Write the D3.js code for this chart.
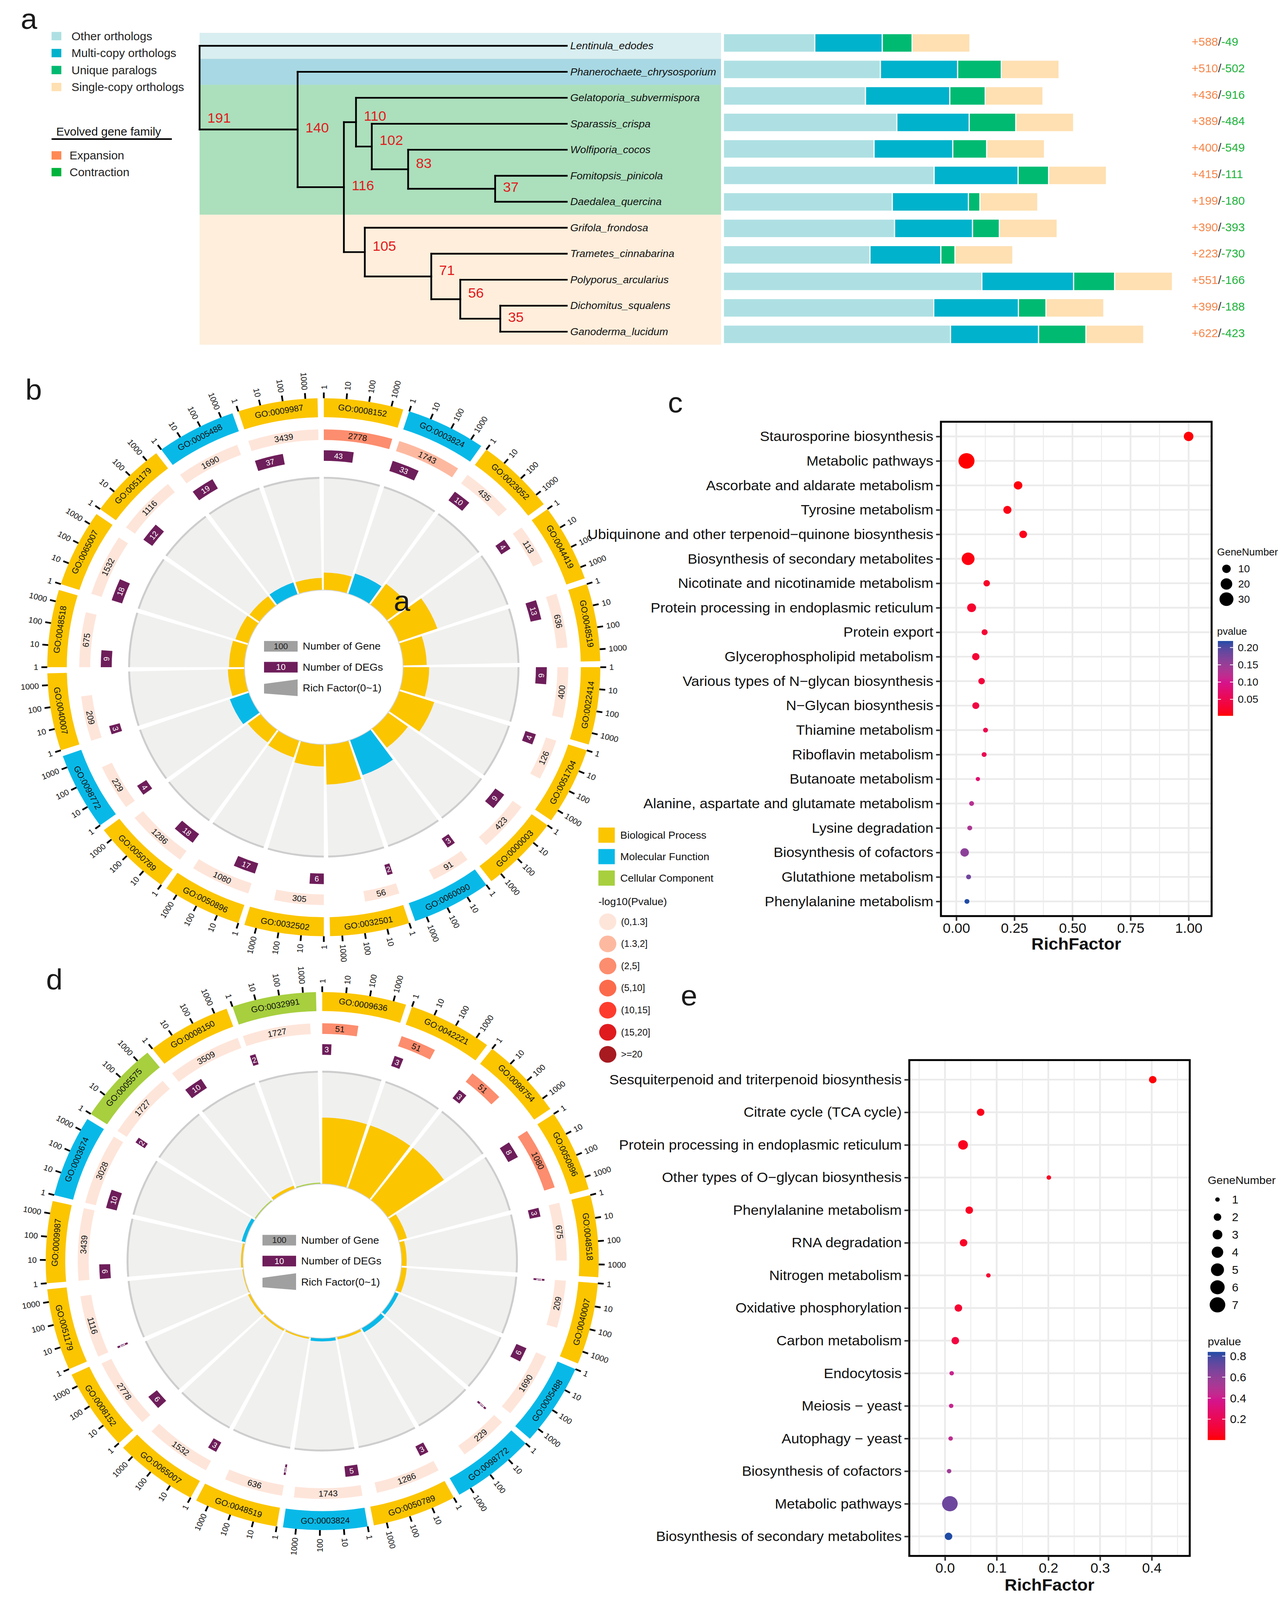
<!DOCTYPE html>
<html>
<head>
<meta charset="utf-8">
<script src="https://cdn.jsdelivr.net/npm/d3@7"></script>
<style>
  html, body { margin: 0; padding: 0; background: #fff; overflow: hidden; }
  svg { display: block; position: absolute; left: 0; top: 0; }
  text { font-family: "Liberation Sans", Arial, Helvetica, sans-serif; }
</style>
</head>
<body>
<script>
// whole figure lives inside this function, nothing global
(function(){
    var FONT = '"Liberation Sans", Arial, sans-serif';
    var W = 3295, H = 4211;

    // ---------------- panel a : species tree + gene bars ----------------
    var treeIds     = ["n191","Lentinula_edodes","n140","Phanerochaete_chrysosporium","n116","n110",
                       "Gelatoporia_subvermispora","n102","Sparassis_crispa","n83","Wolfiporia_cocos","n37",
                       "Fomitopsis_pinicola","Daedalea_quercina","n105","Grifola_frondosa","n71",
                       "Trametes_cinnabarina","n56","Polyporus_arcularius","n35","Dichomitus_squalens","Ganoderma_lucidum"];
    var treeParents = [null,"n191","n191","n140","n140","n116","n110","n110","n102","n102","n83","n83",
                       "n37","n37","n116","n105","n105","n71","n71","n56","n56","n35","n35"];
    // relative node position along the tree (0 = root, 1 = tips)
    var treeDepth   = [0,1,0.267,1,0.393,0.426,1,0.469,1,0.568,1,0.805,1,1,0.450,1,0.631,1,0.710,1,0.819,1,1];

    var orthoKeys   = ["other","multi","unique","single"];
    var orthoNames  = ["Other orthologs","Multi-copy orthologs","Unique paralogs","Single-copy orthologs"];
    var orthoColors = ["#AEE0E3","#00B2CB","#00BA72","#FEE0B2"];
    var otherOrtho  = [2340,4021,3639,4441,3858,5396,4326,4383,3753,6618,5386,5816];
    var multiOrtho  = [1729,1977,2158,1853,2015,2149,1948,1996,1815,2349,2168,2254];
    var uniquePara  = [764,1117,907,1194,869,783,296,688,363,1051,707,1213];
    var singleOrtho = [1480,1480,1480,1480,1480,1480,1480,1480,1480,1480,1480,1480];
    var expansion   = [588,510,436,389,400,415,199,390,223,551,399,622];
    var contraction = [49,502,916,484,549,111,180,393,730,166,188,423];

    var bandFirst  = ["Lentinula_edodes","Phanerochaete_chrysosporium","Gelatoporia_subvermispora","Grifola_frondosa"];
    var bandLast   = ["Lentinula_edodes","Phanerochaete_chrysosporium","Daedalea_quercina","Ganoderma_lucidum"];
    var bandColors = ["#D8EEF0","#A8D8E3","#ACDFBC","#FEEEDB"];

    // ---------------- panels b / d : GO circles ----------------
    var catColor = {BP:"#FBC500", MF:"#08B9E8", CC:"#A7CF3E"};
    var catNames = ["Biological Process","Molecular Function","Cellular Component"];
    var pClassLabels = ["(0,1.3]","(1.3,2]","(2,5]","(5,10]","(10,15]","(15,20]",">=20"];
    var pClassColors = ["#FEE5DA","#FDB9A0","#FC8D6E","#FC6A4C","#FE3C2D","#E01B1E","#A71A20"];

    var bIds   = ["GO:0008152","GO:0003824","GO:0023052","GO:0044419","GO:0048519","GO:0022414","GO:0051704",
                  "GO:0000003","GO:0060090","GO:0032501","GO:0032502","GO:0050896","GO:0050789","GO:0098772",
                  "GO:0040007","GO:0048518","GO:0065007","GO:0051179","GO:0005488","GO:0009987"];
    var bCats  = ["BP","MF","BP","BP","BP","BP","BP","BP","MF","BP","BP","BP","BP","MF","BP","BP","BP","BP","MF","BP"];
    var bGenes = [2778,1743,435,113,636,400,126,423,91,56,305,1080,1286,229,209,675,1532,1116,1690,3439];
    var bDegs  = [43,33,10,4,13,9,4,9,3,2,6,17,18,4,3,9,18,12,19,37];
    var bPcls  = [2,1,0,0,0,0,0,0,0,0,0,0,0,0,0,0,0,0,0,0];

    var dIds   = ["GO:0009636","GO:0042221","GO:0098754","GO:0050896","GO:0048518","GO:0040007","GO:0005488",
                  "GO:0098772","GO:0050789","GO:0003824","GO:0048519","GO:0065007","GO:0008152","GO:0051179",
                  "GO:0009987","GO:0003674","GO:0005575","GO:0008150","GO:0032991"];
    var dCats  = ["BP","BP","BP","BP","BP","BP","MF","MF","BP","MF","BP","BP","BP","BP","BP","MF","CC","BP","CC"];
    var dGenes = [51,51,51,1080,675,209,1690,229,1286,1743,636,1532,2778,1116,3439,3028,1727,3509,1727];
    var dDegs  = [3,3,3,8,3,1,6,1,3,5,1,3,6,1,6,10,2,10,2];
    var dPcls  = [2,2,2,2,0,0,0,0,0,0,0,0,0,0,0,0,0,0,0];

    var axisTicks = [1,10,100,1000];

    // ---------------- panel c : KEGG dot plot ----------------
    var cTerms = ["Staurosporine biosynthesis","Metabolic pathways","Ascorbate and aldarate metabolism",
                  "Tyrosine metabolism","Ubiquinone and other terpenoid\u2212quinone biosynthesis",
                  "Biosynthesis of secondary metabolites","Nicotinate and nicotinamide metabolism",
                  "Protein processing in endoplasmic reticulum","Protein export","Glycerophospholipid metabolism",
                  "Various types of N\u2212glycan biosynthesis","N\u2212Glycan biosynthesis","Thiamine metabolism",
                  "Riboflavin metabolism","Butanoate metabolism","Alanine, aspartate and glutamate metabolism",
                  "Lysine degradation","Biosynthesis of cofactors","Glutathione metabolism","Phenylalanine metabolism"];
    var cRich  = [1.0,0.044,0.266,0.220,0.288,0.051,0.131,0.066,0.122,0.084,0.109,0.084,0.126,0.120,0.093,0.066,0.058,0.036,0.053,0.046];
    var cGenes = [13,40,10,9,8,25,5,11,4,7,5,6,2,2,1,2,2,10,2,2];
    var cPval  = [0.004,0.003,0.006,0.010,0.012,0.008,0.020,0.025,0.028,0.030,0.035,0.040,0.050,0.052,0.075,0.125,0.135,0.160,0.180,0.219];
    var cXTicks = [0,0.25,0.5,0.75,1];
    var cSizeLegend = [10,20,30];
    var cPTicks = [0.05,0.10,0.15,0.20];

    // ---------------- panel e : KEGG dot plot ----------------
    var eTerms = ["Sesquiterpenoid and triterpenoid biosynthesis","Citrate cycle (TCA cycle)",
                  "Protein processing in endoplasmic reticulum","Other types of O\u2212glycan biosynthesis",
                  "Phenylalanine metabolism","RNA degradation","Nitrogen metabolism","Oxidative phosphorylation",
                  "Carbon metabolism","Endocytosis","Meiosis \u2212 yeast","Autophagy \u2212 yeast",
                  "Biosynthesis of cofactors","Metabolic pathways","Biosynthesis of secondary metabolites"];
    var eRich  = [0.402,0.069,0.035,0.201,0.047,0.036,0.084,0.026,0.020,0.013,0.012,0.011,0.008,0.0095,0.0069];
    var eGenes = [2,2,3,1,2,2,1,2,2,1,1,1,1,7,2];
    var ePval  = [0.01,0.04,0.05,0.06,0.06,0.07,0.10,0.10,0.14,0.42,0.42,0.45,0.55,0.70,0.84];
    var eXTicks = [0,0.1,0.2,0.3,0.4];
    var eSizeLegend = [1,2,3,4,5,6,7];
    var ePTicks = [0.2,0.4,0.6,0.8];

    // p value colours: red -> magenta -> navy
    var pColors = ["#FF0000","#D4148C","#1F4BA5"];

    // the window can be shorter than the figure: squeeze the drawing to the visible height
    var viewH = Math.min(window.innerHeight || H, H);
    var svg = d3.select("body").append("svg")
        .attr("width", W)
        .attr("height", viewH)
        .attr("viewBox", "0 0 " + W + " " + H)
        .attr("preserveAspectRatio", "none");
    svg.append("rect").attr("width",W).attr("height",H).attr("fill","#fff");
    var defs = svg.append("defs");

    drawPanelA();
    goCircle(829, 1756, bIds, bCats, bGenes, bDegs, bPcls);
    goCircle(825, 3319, dIds, dCats, dGenes, dDegs, dPcls);
    drawGoLegend();

    dotPanel({
        terms: cTerms, rich: cRich, genes: cGenes, pval: cPval,
        left: 2409, right: 3102, top: 1110, bottom: 2411,
        xDomain: [-0.066, 1.099], xTicks: cXTicks, fmt: d3.format(".2f"),
        minor: [0.125,0.375,0.625,0.875],
        sizeDomain: [1,40], areaRange: [120,1680],
        pDomain: [0.0022,0.219], pTicks: cPTicks, pFmt: d3.format(".2f"),
        labelSize: 37, tickSize: 36, titleY: 2484,
        sizeLegend: cSizeLegend, legX: 3116, legTitleY: 1453, legDotX: 3140, legRow0: 1497, legStep: 40,
        legFont: 26, legLabelX: 3162,
        pTitleY: 1661, barX: 3118, barW: 39, barTop: 1687, barBottom: 1884
    });
    dotPanel({
        terms: eTerms, rich: eRich, genes: eGenes, pval: ePval,
        left: 2328, right: 3046, top: 2790, bottom: 4095,
        xDomain: [-0.069, 0.4736], xTicks: eXTicks, fmt: d3.format(".1f"),
        minor: [-0.05,0.05,0.15,0.25,0.35,0.45],
        sizeDomain: [1,7], areaRange: [132,1600],
        pDomain: [0.001,0.84], pTicks: ePTicks, pFmt: d3.format(".1f"),
        labelSize: 37, tickSize: 36, titleY: 4171,
        sizeLegend: eSizeLegend, legX: 3092, legTitleY: 3106, legDotX: 3117, legRow0: 3157, legStep: 46.2,
        legFont: 29, legLabelX: 3146,
        pTitleY: 3531, barX: 3092, barW: 45, barTop: 3558, barBottom: 3790
    });

    // panel letters (plus the stray "a" sitting in panel b)
    var letters = [["a",53,76],["b",65,1052],["c",1710,1086],["d",118,2604],["e",1743,2646],["a",1008,1608]];
    svg.selectAll(".letter").data(letters).enter().append("text")
        .attr("class","letter")
        .attr("x", function(d){ return d[1]; })
        .attr("y", function(d){ return d[2]; })
        .attr("font-size", 76)
        .attr("fill", "#1a1a1a")
        .text(function(d){ return d[0]; });

    // ======================================================================
    function drawPanelA(){
        var g = svg.append("g");

        var table = treeIds.map(function(id, i){ return {id:id, parent:treeParents[i], pos:treeDepth[i]}; });
        var root = d3.stratify()
            .id(function(d){ return d.id; })
            .parentId(function(d){ return d.parent; })(table);

        var leaves = root.leaves().map(function(d){ return d.id; });
        var xTree = d3.scaleLinear().domain([0,1]).range([511,1451]);
        var yTip = d3.scalePoint().domain(leaves).range([120.6, 873]);
        var step = yTip.step();

        root.eachAfter(function(nd){
            nd.x = xTree(nd.data.pos);
            if (nd.children) {
                nd.y = (nd.children[0].y + nd.children[nd.children.length-1].y) / 2;
            } else {
                nd.y = yTip(nd.id);
            }
        });

        // coloured clade bands behind the tree
        g.selectAll(".band").data(bandFirst).enter().append("rect")
            .attr("x", 511)
            .attr("width", 1846 - 511)
            .attr("y", function(d){ return yTip(d) - step/2; })
            .attr("height", function(d, i){ return yTip(bandLast[i]) - yTip(d) + step; })
            .attr("fill", function(d, i){ return bandColors[i]; });

        var internal = root.descendants().filter(function(d){ return d.children; });

        // vertical connectors
        g.selectAll(".vlink").data(internal).enter().append("line")
            .attr("x1", function(d){ return d.x; }).attr("x2", function(d){ return d.x; })
            .attr("y1", function(d){ return d.children[0].y; })
            .attr("y2", function(d){ return d.children[d.children.length-1].y; })
            .attr("stroke", "#000").attr("stroke-width", 4.5).attr("stroke-linecap","square");
        // horizontal branches
        g.selectAll(".hlink").data(root.links()).enter().append("line")
            .attr("x1", function(d){ return d.source.x; })
            .attr("x2", function(d){ return d.target.x; })
            .attr("y1", function(d){ return d.target.y; })
            .attr("y2", function(d){ return d.target.y; })
            .attr("stroke", "#000").attr("stroke-width", 4.5).attr("stroke-linecap","square");

        // node numbers (kept clear of the branch that starts just below them)
        g.selectAll(".nlab").data(internal).enter().append("text")
            .attr("x", function(d){ return d.x + 20; })
            .attr("y", function(d){
                if (!d.parent) return d.children[1].y - 30;
                var gap = d.children[1].y - d.y;
                return gap < 70 && d.children[1].children ? d.y - 16 : d.y - 4;
            })
            .attr("dominant-baseline", "central")
            .attr("font-size", 36)
            .attr("fill", "#E3191C")
            .text(function(d){ return d.id.slice(1); });

        // species names
        g.selectAll(".tip").data(leaves).enter().append("text")
            .attr("x", 1460)
            .attr("y", function(d){ return yTip(d); })
            .attr("dominant-baseline", "central")
            .attr("font-size", 27)
            .attr("font-style", "italic")
            .attr("fill", "#111")
            .text(function(d){ return d; });

        // stacked ortholog bars
        var rows = leaves.map(function(s, i){
            return {sp:s, other:otherOrtho[i], multi:multiOrtho[i], unique:uniquePara[i], single:singleOrtho[i]};
        });
        var stacked = d3.stack().keys(orthoKeys)(rows);
        var barX = d3.scaleLinear().domain([0,10000]).range([1852,2852]);
        var barY = d3.scalePoint().domain(leaves).range([113, 880]);
        var barH = 49;

        g.selectAll(".layer").data(stacked).enter().append("g")
            .attr("fill", function(d, i){ return orthoColors[i]; })
            .selectAll("rect").data(function(d){ return d; }).enter().append("rect")
            .attr("x", function(d){ return barX(d[0]); })
            .attr("width", function(d){ return barX(d[1]) - barX(d[0]); })
            .attr("y", function(d){ return barY(d.data.sp) - barH/2; })
            .attr("height", barH)
            .attr("stroke", "#fff")
            .attr("stroke-width", 3);

        // expansion / contraction numbers
        var lab = g.selectAll(".ec").data(leaves).enter().append("text")
            .attr("x", 3051)
            .attr("y", function(d){ return barY(d) - 4; })
            .attr("dominant-baseline", "central")
            .attr("font-size", 30);
        lab.append("tspan").attr("fill","#F5884C").text(function(d, i){ return "+" + expansion[i]; });
        lab.append("tspan").attr("fill","#333").text("/");
        lab.append("tspan").attr("fill","#1DB33A").text(function(d, i){ return "-" + contraction[i]; });

        // legend
        var legY = d3.scalePoint().domain(orthoNames).range([95, 229]);
        g.selectAll(".osw").data(orthoNames).enter().append("rect")
            .attr("x", 132).attr("width", 25)
            .attr("y", function(d){ return legY(d) - 11; }).attr("height", 22)
            .attr("fill", function(d, i){ return orthoColors[i]; });
        g.selectAll(".otx").data(orthoNames).enter().append("text")
            .attr("x", 183).attr("y", function(d){ return legY(d); })
            .attr("dominant-baseline","central").attr("font-size", 30).attr("fill","#222")
            .text(function(d){ return d; });

        g.append("text").attr("x",144).attr("y",346).attr("dominant-baseline","central")
            .attr("font-size",30).attr("fill","#111").text("Evolved gene family");
        g.append("line").attr("x1",132).attr("x2",440).attr("y1",366).attr("y2",366)
            .attr("stroke","#000").attr("stroke-width",4);

        var ecNames = ["Expansion","Contraction"], ecColors = ["#FF8A55","#00B33C"];
        g.selectAll(".esw").data(ecNames).enter().append("rect")
            .attr("x",132).attr("width",25)
            .attr("y", function(d, i){ return 398 + i*44; }).attr("height",22)
            .attr("fill", function(d, i){ return ecColors[i]; });
        g.selectAll(".etx").data(ecNames).enter().append("text")
            .attr("x",178).attr("y", function(d, i){ return 409 + i*44; })
            .attr("dominant-baseline","central").attr("font-size",30).attr("fill","#222")
            .text(function(d){ return d; });
    }

    // ======================================================================
    // text that follows the circle (tangential), flipped on the lower half
    function tangential(sel, a, r){
        var deg = a * 180 / Math.PI;
        var rot = (deg > 90 && deg < 270) ? deg - 180 : deg;
        return sel.attr("transform", "translate(" + (r*Math.sin(a)) + "," + (-r*Math.cos(a)) + ") rotate(" + rot + ")")
            .attr("text-anchor","middle").attr("dominant-baseline","central");
    }

    function goCircle(cx, cy, ids, cats, genes, degs, pcls){
        var g = svg.append("g").attr("transform", "translate(" + cx + "," + cy + ")");
        var n = ids.length,
            step = 2*Math.PI/n,
            gap = 1.3*Math.PI/180,
            maxCount = d3.max(genes);
        var rIn = 203, rGrey = 500;
        var rich = d3.scaleLinear().domain([0,0.1]).range([rIn, rGrey]).clamp(true);
        var arc = d3.arc();

        var rows = ids.map(function(id, i){
            var a0 = i*step;
            return {id:id, cat:cats[i], genes:genes[i], degs:degs[i], pcl:pcls[i],
                    a0:a0, a1:a0 + step - gap,
                    pos:d3.scaleLog().domain([1, maxCount]).range([a0, a0 + step - gap])};
        });

        // grey track + its rim
        g.selectAll(".bg").data(rows).enter().append("path")
            .attr("d", function(d){ return arc({innerRadius:rIn, outerRadius:rGrey, startAngle:d.a0, endAngle:d.a1}); })
            .attr("fill", "#F0F0EF");
        g.selectAll(".rim").data(rows).enter().append("path")
            .attr("d", function(d){ return arc({innerRadius:rGrey-4, outerRadius:rGrey+1, startAngle:d.a0, endAngle:d.a1}); })
            .attr("fill", "#CDCDCD");

        // rich factor bars
        g.selectAll(".rf").data(rows).enter().append("path")
            .attr("d", function(d){
                return arc({innerRadius:rIn, outerRadius:rich(d.degs/d.genes), startAngle:d.a0, endAngle:d.a1});
            })
            .attr("fill", function(d){ return catColor[d.cat]; });
        g.append("circle").attr("r", rIn).attr("fill","none").attr("stroke","#D6D6D6").attr("stroke-width",2);

        // DEG boxes
        var degEnd = function(d){ return Math.max(d.pos(d.degs), d.a0 + 0.5*Math.PI/180); };
        g.selectAll(".deg").data(rows).enter().append("path")
            .attr("d", function(d){ return arc({innerRadius:543, outerRadius:571, startAngle:d.a0, endAngle:degEnd(d)}); })
            .attr("fill", "#6E1E5A");
        g.selectAll(".degt").data(rows).enter().append("text")
            .each(function(d){ tangential(d3.select(this), (d.a0 + degEnd(d))/2, 557); })
            .attr("font-size", 20).attr("fill", "#fff")
            .text(function(d){ return d.degs; });

        // gene-number bars coloured by p value class
        g.selectAll(".cnt").data(rows).enter().append("path")
            .attr("d", function(d){ return arc({innerRadius:598, outerRadius:626, startAngle:d.a0, endAngle:d.pos(d.genes)}); })
            .attr("fill", function(d){ return pClassColors[d.pcl]; });
        g.selectAll(".cntt").data(rows).enter().append("text")
            .each(function(d){ tangential(d3.select(this), (d.a0 + d.pos(d.genes))/2, 612); })
            .attr("font-size", 22).attr("fill", "#111")
            .text(function(d){ return d.genes; });

        // outer category ring with GO ids
        g.selectAll(".cat").data(rows).enter().append("path")
            .attr("d", function(d){ return arc({innerRadius:658, outerRadius:708, startAngle:d.a0, endAngle:d.a1}); })
            .attr("fill", function(d){ return catColor[d.cat]; });
        g.selectAll(".catt").data(rows).enter().append("text")
            .each(function(d){ tangential(d3.select(this), (d.a0 + d.a1)/2, 683); })
            .attr("font-size", 22).attr("fill", "#111")
            .text(function(d){ return d.id; });

        // log axis ticks outside every sector
        var ticks = [];
        rows.forEach(function(d){
            axisTicks.forEach(function(t){ ticks.push({a:d.pos(t), v:t}); });
        });
        g.selectAll(".tk").data(ticks).enter().append("line")
            .attr("x1", function(d){ return 708*Math.sin(d.a); })
            .attr("y1", function(d){ return -708*Math.cos(d.a); })
            .attr("x2", function(d){ return 723*Math.sin(d.a); })
            .attr("y2", function(d){ return -723*Math.cos(d.a); })
            .attr("stroke", "#000").attr("stroke-width", 4.5);
        g.selectAll(".tkl").data(ticks).enter().append("text")
            .attr("transform", function(d){
                var deg = d.a*180/Math.PI;
                var rot = deg < 180 ? deg - 90 : deg + 90;
                return "translate(" + (731*Math.sin(d.a)) + "," + (-731*Math.cos(d.a)) + ") rotate(" + rot + ")";
            })
            .attr("text-anchor", function(d){ return d.a*180/Math.PI < 180 ? "start" : "end"; })
            .attr("dominant-baseline", "central")
            .attr("font-size", 21).attr("fill", "#111")
            .text(function(d){ return d.v; });

        // small legend in the middle
        var leg = g.append("g");
        leg.append("rect").attr("x",-153).attr("y",-69).attr("width",86).attr("height",28).attr("fill","#A0A0A0");
        leg.append("text").attr("x",-110).attr("y",-55).attr("text-anchor","middle").attr("dominant-baseline","central")
            .attr("font-size",22).attr("fill","#222").text("100");
        leg.append("rect").attr("x",-153).attr("y",-14).attr("width",86).attr("height",28).attr("fill","#6E1E5A");
        leg.append("text").attr("x",-110).attr("y",0).attr("text-anchor","middle").attr("dominant-baseline","central")
            .attr("font-size",22).attr("fill","#fff").text("10");
        leg.append("polygon").attr("points","-153,44 -67,32 -67,76 -153,69").attr("fill","#A0A0A0");
        var legText = ["Number of Gene","Number of DEGs","Rich Factor(0~1)"];
        leg.selectAll(".lt").data(legText).enter().append("text")
            .attr("x", -54).attr("y", function(d, i){ return -55 + i*55; })
            .attr("dominant-baseline","central").attr("font-size",27).attr("fill","#111")
            .text(function(d){ return d; });
    }

    // ======================================================================
    function drawGoLegend(){
        var g = svg.append("g");
        var rowY = d3.scalePoint().domain(catNames).range([2198, 2311]);
        g.selectAll(".csw").data(catNames).enter().append("rect")
            .attr("x", 1532).attr("width", 42)
            .attr("y", function(d){ return rowY(d) - 20; }).attr("height", 40)
            .attr("fill", function(d, i){ return catColor[["BP","MF","CC"][i]]; });
        g.selectAll(".ctx").data(catNames).enter().append("text")
            .attr("x", 1588).attr("y", function(d){ return rowY(d); })
            .attr("dominant-baseline","central").attr("font-size",27).attr("fill","#111")
            .text(function(d){ return d; });

        g.append("text").attr("x",1532).attr("y",2373).attr("dominant-baseline","central")
            .attr("font-size",27).attr("fill","#111").text("-log10(Pvalue)");

        var pY = d3.scalePoint().domain(pClassLabels).range([2426, 2775]);
        g.selectAll(".pc").data(pClassLabels).enter().append("circle")
            .attr("cx", 1556).attr("cy", function(d){ return pY(d); }).attr("r", 22)
            .attr("fill", function(d, i){ return pClassColors[i]; });
        g.selectAll(".pt").data(pClassLabels).enter().append("text")
            .attr("x", 1590).attr("y", function(d){ return pY(d); })
            .attr("dominant-baseline","central").attr("font-size",24).attr("fill","#111")
            .text(function(d){ return d; });
    }

    // ======================================================================
    function dotPanel(cfg){
        var g = svg.append("g");
        var x = d3.scaleLinear().domain(cfg.xDomain).range([cfg.left, cfg.right]);
        var y = d3.scalePoint().domain(cfg.terms).range([cfg.top, cfg.bottom]).padding(0.6);
        var area = d3.scaleLinear().domain(cfg.sizeDomain).range(cfg.areaRange);
        var radius = function(v){ return Math.sqrt(area(v)) / 2; };
        var pMid = cfg.pDomain[0] + 0.45*(cfg.pDomain[1] - cfg.pDomain[0]);
        var color = d3.scaleLinear().domain([cfg.pDomain[0], pMid, cfg.pDomain[1]])
            .range(pColors).interpolate(d3.interpolateLab);

        // grid
        g.selectAll(".minor").data(cfg.minor).enter().append("line")
            .attr("x1", x).attr("x2", x).attr("y1", cfg.top).attr("y2", cfg.bottom)
            .attr("stroke", "#EBEBEB").attr("stroke-width", 2.2);
        g.selectAll(".majx").data(cfg.xTicks).enter().append("line")
            .attr("x1", x).attr("x2", x).attr("y1", cfg.top).attr("y2", cfg.bottom)
            .attr("stroke", "#EBEBEB").attr("stroke-width", 4.5);
        g.selectAll(".majy").data(cfg.terms).enter().append("line")
            .attr("x1", cfg.left).attr("x2", cfg.right).attr("y1", y).attr("y2", y)
            .attr("stroke", "#EBEBEB").attr("stroke-width", 4.5);

        // points
        g.selectAll(".pt").data(cfg.terms).enter().append("circle")
            .attr("cx", function(d, i){ return x(cfg.rich[i]); })
            .attr("cy", function(d){ return y(d); })
            .attr("r", function(d, i){ return radius(cfg.genes[i]); })
            .attr("fill", function(d, i){ return color(cfg.pval[i]); });

        g.append("rect")
            .attr("x", cfg.left).attr("y", cfg.top)
            .attr("width", cfg.right - cfg.left).attr("height", cfg.bottom - cfg.top)
            .attr("fill", "none").attr("stroke", "#000").attr("stroke-width", 5);

        // axes
        var ya = g.append("g").attr("transform", "translate(" + (cfg.left - 2.5) + ",0)")
            .call(d3.axisLeft(y).tickSize(10).tickPadding(7));
        ya.select(".domain").remove();
        ya.selectAll("line").attr("stroke", "#333").attr("stroke-width", 4);
        ya.selectAll("text").attr("font-size", cfg.labelSize).attr("font-family", FONT).attr("fill", "#111");

        var xa = g.append("g").attr("transform", "translate(0," + (cfg.bottom + 2.5) + ")")
            .call(d3.axisBottom(x).tickValues(cfg.xTicks).tickFormat(cfg.fmt).tickSize(10).tickPadding(6));
        xa.select(".domain").remove();
        xa.selectAll("line").attr("stroke", "#333").attr("stroke-width", 4);
        xa.selectAll("text").attr("font-size", cfg.tickSize).attr("font-family", FONT).attr("fill", "#111");

        g.append("text").attr("x", (cfg.left + cfg.right)/2).attr("y", cfg.titleY)
            .attr("text-anchor", "middle").attr("dominant-baseline", "central")
            .attr("font-size", 44).attr("font-weight", "bold").attr("fill", "#111")
            .text("RichFactor");

        // size legend
        g.append("text").attr("x", cfg.legX).attr("y", cfg.legTitleY).attr("dominant-baseline","central")
            .attr("font-size", cfg.legFont).attr("fill", "#111").text("GeneNumber");
        g.selectAll(".sl").data(cfg.sizeLegend).enter().append("circle")
            .attr("cx", cfg.legDotX).attr("cy", function(d, i){ return cfg.legRow0 + i*cfg.legStep; })
            .attr("r", radius).attr("fill", "#000");
        g.selectAll(".slt").data(cfg.sizeLegend).enter().append("text")
            .attr("x", cfg.legLabelX + 8).attr("y", function(d, i){ return cfg.legRow0 + i*cfg.legStep; })
            .attr("dominant-baseline","central").attr("font-size", cfg.legFont + 1).attr("fill", "#111")
            .text(function(d){ return d; });

        // colour bar
        var gid = "grad" + cfg.top;
        var grad = defs.append("linearGradient").attr("id", gid)
            .attr("x1", 0).attr("y1", 1).attr("x2", 0).attr("y2", 0);
        d3.range(0, 1.0001, 0.05).forEach(function(t){
            grad.append("stop").attr("offset", t)
                .attr("stop-color", color(cfg.pDomain[0] + t*(cfg.pDomain[1] - cfg.pDomain[0])));
        });
        g.append("text").attr("x", cfg.legX).attr("y", cfg.pTitleY).attr("dominant-baseline","central")
            .attr("font-size", cfg.legFont).attr("fill", "#111").text("pvalue");
        g.append("rect").attr("x", cfg.barX).attr("y", cfg.barTop)
            .attr("width", cfg.barW).attr("height", cfg.barBottom - cfg.barTop)
            .attr("fill", "url(#" + gid + ")");
        var py = d3.scaleLinear().domain(cfg.pDomain).range([cfg.barBottom, cfg.barTop]);
        cfg.pTicks.forEach(function(t){
            g.append("line").attr("x1", cfg.barX).attr("x2", cfg.barX + 8).attr("y1", py(t)).attr("y2", py(t))
                .attr("stroke", "#fff").attr("stroke-width", 2);
            g.append("line").attr("x1", cfg.barX + cfg.barW - 8).attr("x2", cfg.barX + cfg.barW)
                .attr("y1", py(t)).attr("y2", py(t)).attr("stroke", "#fff").attr("stroke-width", 2);
        });
        g.selectAll(".pl").data(cfg.pTicks).enter().append("text")
            .attr("x", cfg.barX + cfg.barW + 12).attr("y", py)
            .attr("dominant-baseline","central").attr("font-size", cfg.legFont + 1).attr("fill", "#111")
            .text(cfg.pFmt);
    }
})();
</script>
</body>
</html>
